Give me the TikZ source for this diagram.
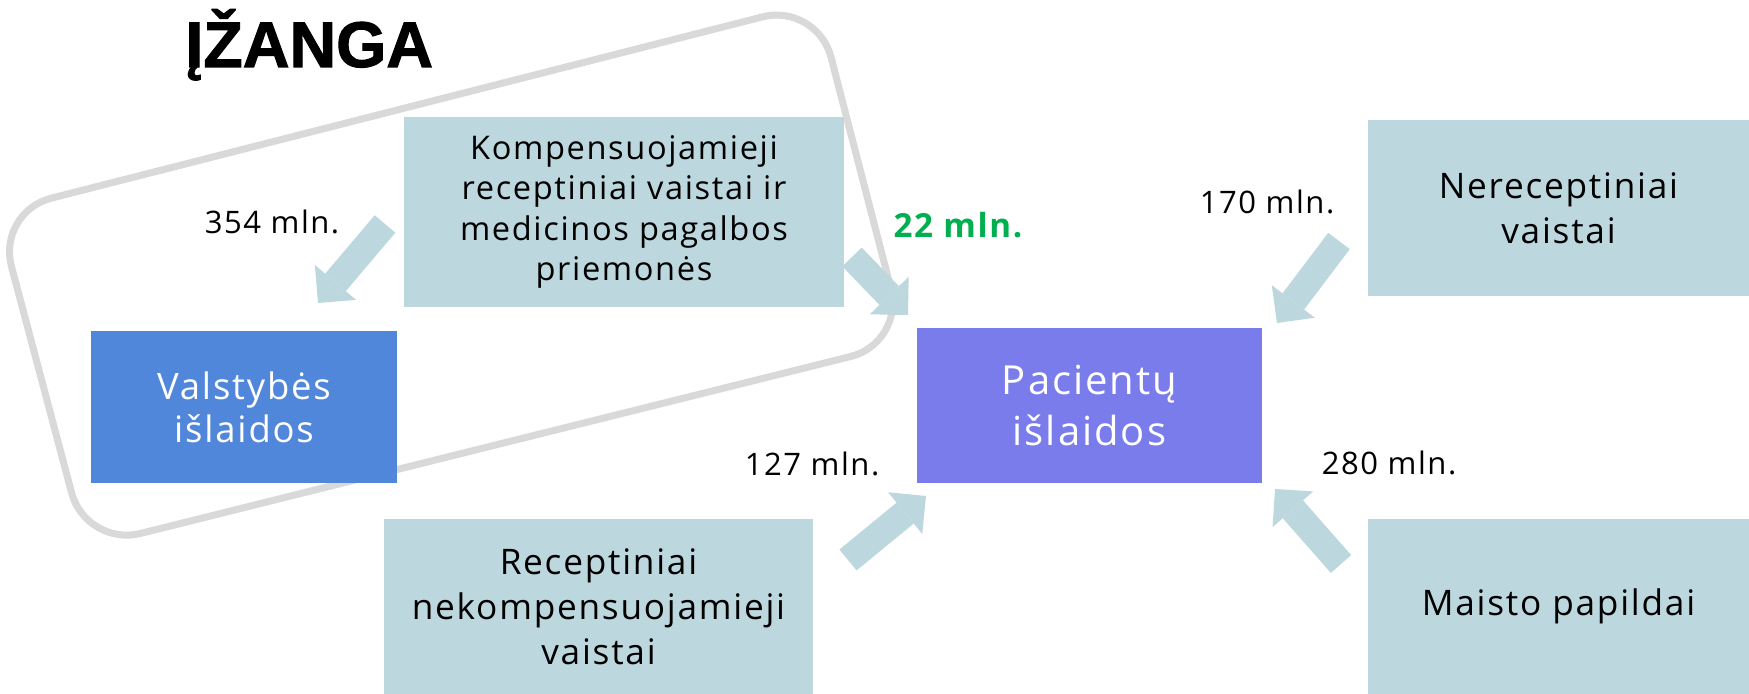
\documentclass[tikz,border=0pt]{standalone}
\usepackage{fontspec}
\setmainfont{Open Sans}[LetterSpace=5]
\newfontfamily\titlefont{Liberation Sans Bold}[FakeBold=1.6]
\usetikzlibrary{arrows.meta}
\definecolor{boxc}{HTML}{BDD7DE}
\definecolor{statec}{HTML}{5187DA}
\definecolor{patc}{HTML}{7A7CEC}
\definecolor{outlc}{HTML}{D9D9D9}
\definecolor{greenc}{HTML}{00B050}
\tikzset{
  lightbox/.style={fill=boxc, inner sep=0pt, align=center, text=black,
    font=\fontsize{16.3}{20.25}\selectfont},
  bigbox/.style={lightbox, font=\fontsize{17.6}{22.4}\selectfont},
  statebox/.style={fill=statec, inner sep=0pt, align=center, text=white,
    font=\fontsize{18.2}{21.5}\selectfont},
  patbox/.style={fill=patc, inner sep=0pt, align=center, text=white,
    font=\fontsize{20}{25.5}\selectfont},
  lbl/.style={inner sep=0pt, anchor=base, font=\fontsize{15.5}{18}\selectfont},
  blockarrow/.style={line width=13.5pt, draw=boxc,
    -{Triangle[length=0pt 1, width=0pt 2, line width=0pt, fill=boxc]}},
  outline/.style={draw=outlc, line width=3.5pt, rounded corners=28pt}
}
\begin{document}
\begin{tikzpicture}[x=0.5pt,y=-0.5pt]
\useasboundingbox (0,0) rectangle (1749,694);
\fill[white] (0,0) rectangle (1749,694);
% grouping outline
\coordinate (g1) at (-3,212);
\coordinate (g2) at (817,3);
\coordinate (g3) at (905,343);
\coordinate (g4) at (86,547);
\draw[outline] (g1) -- (g2) -- (g3) -- (g4) -- cycle;
% title
\node[inner sep=0pt, anchor=base west, font=\titlefont\fontsize{32.3}{36}\selectfont] (title) at (185,67) {ĮŽANGA};
% boxes
\node[lightbox, minimum width=220pt, minimum height=95pt] (komp) at (624,212)
  {Kompensuojamieji\\receptiniai vaistai ir\\medicinos pagalbos\\priemonės};
\node[statebox, minimum width=153pt, minimum height=76pt] (valst) at (244,407)
  {Valstybės\\išlaidos};
\node[patbox, minimum width=172.5pt, minimum height=77.5pt] (pac) at (1089.5,405.5)
  {Pacientų\\išlaidos};
\node[bigbox, minimum width=190.5pt, minimum height=88pt] (nerec) at (1558.5,208)
  {Nereceptiniai\\vaistai};
\node[bigbox, minimum width=214.5pt, minimum height=87.5pt] (recnk) at (598.5,606.5)
  {Receptiniai\\nekompensuojamieji\\vaistai};
\node[bigbox, minimum width=190.5pt, minimum height=87.5pt] (maist) at (1558.5,606.5)
  {Maisto papildai};
% arrows
\coordinate (a1t) at (385,224); \coordinate (a1h) at (318,303);
\coordinate (a2t) at (852,257); \coordinate (a2h) at (908,315);
\coordinate (a3t) at (1339,241); \coordinate (a3h) at (1277,323);
\coordinate (a4t) at (848,560); \coordinate (a4h) at (926,496);
\coordinate (a5t) at (1341,564); \coordinate (a5h) at (1275,489);
\draw[blockarrow] (a1t) -- (a1h);
\draw[blockarrow] (a2t) -- (a2h);
\draw[blockarrow] (a3t) -- (a3h);
\draw[blockarrow] (a4t) -- (a4h);
\draw[blockarrow] (a5t) -- (a5h);
% labels
\node[lbl] (l354) at (272,234) {354 mln.};
\node[lbl, text=greenc, font=\bfseries\fontsize{16.6}{18}\selectfont] (l22) at (958,238) {22 mln.};
\node[lbl] (l170) at (1267,214) {170 mln.};
\node[lbl] (l127) at (812,475) {127 mln.};
\node[lbl] (l280) at (1389,474) {280 mln.};
\end{tikzpicture}
\end{document}
